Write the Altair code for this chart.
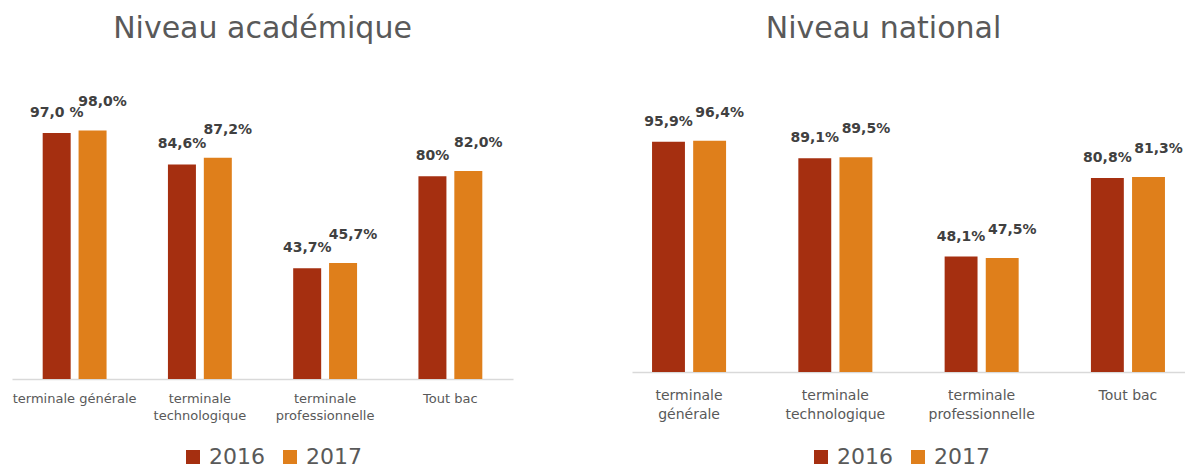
import altair as alt
import pandas as pd

FONT = "DejaVu Sans"

years = ["2016", "2017"]
colors = ["#A52F10", "#DF7F1B"]

categories_acad = ["terminale générale", "terminale\ntechnologique", "terminale\nprofessionnelle", "Tout bac"]
acad_2016 = [97.0, 84.6, 43.7, 80.0]
acad_2017 = [98.0, 87.2, 45.7, 82.0]
acad_lab_2016 = ["97,0 %", "84,6%", "43,7%", "80%"]
acad_lab_2017 = ["98,0%", "87,2%", "45,7%", "82,0%"]

categories_nat = ["terminale\ngénérale", "terminale\ntechnologique", "terminale\nprofessionnelle", "Tout bac"]
nat_2016 = [95.9, 89.1, 48.1, 80.8]
nat_2017 = [96.4, 89.5, 47.5, 81.3]
nat_lab_2016 = ["95,9%", "89,1%", "48,1%", "80,8%"]
nat_lab_2017 = ["96,4%", "89,5%", "47,5%", "81,3%"]


def make_df(cats, v16, v17, l16, l17):
    rows = []
    for c, a, b, la, lb in zip(cats, v16, v17, l16, l17):
        rows.append({"cat": c, "year": "2016", "value": a, "label": la})
        rows.append({"cat": c, "year": "2017", "value": b, "label": lb})
    return pd.DataFrame(rows)


def panel(df, cats, title, width, height, ymax, x_pad, x_outer, off_pad, label_size,
          line_h, label_pad, legend_x, legend_y, title_offset, title_dx):
    x = alt.X(
        "cat:N", sort=cats,
        scale=alt.Scale(paddingInner=x_pad, paddingOuter=x_outer),
        axis=alt.Axis(
            title=None, labelAngle=0,
            labelExpr="split(datum.label, '\\n')",
            domainColor="#D9D9D9", domainWidth=1.5, ticks=False,
            labelFontSize=label_size, labelColor="#595959", labelFont=FONT,
            labelPadding=label_pad, labelLineHeight=line_h, labelBaseline="top",
        ),
    )
    y = alt.Y("value:Q", scale=alt.Scale(domain=[0, ymax]), axis=None)
    xo = alt.XOffset("year:N", scale=alt.Scale(domain=years, paddingInner=off_pad))
    color = alt.Color(
        "year:N",
        scale=alt.Scale(domain=years, range=colors),
        legend=alt.Legend(
            title=None, orient="none", legendX=legend_x, legendY=legend_y,
            direction="horizontal", symbolType="square", symbolSize=196,
            symbolStrokeWidth=0, labelFontSize=22, labelColor="#595959",
            labelFont=FONT, columnPadding=14, labelOffset=5,
        ),
    )
    base = alt.Chart(df)
    bars = base.mark_bar().encode(x=x, y=y, xOffset=xo, color=color)
    t16 = base.transform_filter(alt.datum.year == "2016").mark_text(
        dy=-20, baseline="middle", fontWeight="bold", fontSize=14,
        color="#404040", font=FONT,
    ).encode(x=x, y=y, xOffset=xo, text="label:N")
    t17 = base.transform_filter(alt.datum.year == "2017").mark_text(
        dx=10, dy=-28, baseline="middle", fontWeight="bold", fontSize=14,
        color="#404040", font=FONT,
    ).encode(x=x, y=y, xOffset=xo, text="label:N")
    return alt.layer(bars, t16, t17).properties(
        width=width, height=height,
        title=alt.TitleParams(
            title, fontSize=30, font=FONT, fontWeight="normal",
            color="#595959", anchor="middle", offset=title_offset, dx=title_dx,
        ),
    )


df_acad = make_df(categories_acad, acad_2016, acad_2017, acad_lab_2016, acad_lab_2017)
df_nat = make_df(categories_nat, nat_2016, nat_2017, nat_lab_2016, nat_lab_2017)

left = panel(df_acad, categories_acad, "Niveau académique", 501, 318, 125.4,
             0.49, 0.245, 0.22, 13, 17, 13, 170, 385, 17, 0)
right = panel(df_nat, categories_nat, "Niveau national", 553, 311, 129.6,
              0.494, 0.137, 0.2, 14, 19, 16, 178, 385, 17, -25)

chart = alt.hconcat(left, right, spacing=119, bounds="flush").resolve_scale(
    color="independent", xOffset="independent"
).properties(
    padding={"left": 4, "top": 6, "right": 0, "bottom": 0}
).configure_view(stroke=None)

chart.save("out.html", embed_options={"renderer": "svg", "actions": False})
